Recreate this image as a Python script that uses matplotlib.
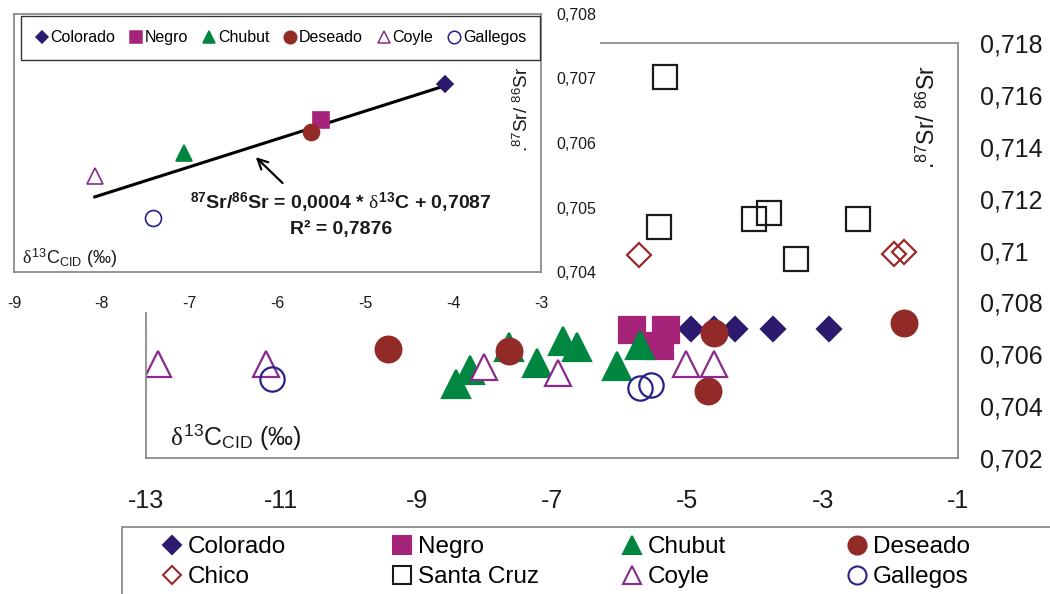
import numpy as np
import matplotlib
matplotlib.use('Agg')
import matplotlib.pyplot as plt
from matplotlib.lines import Line2D
from matplotlib.patches import Rectangle
from matplotlib.ticker import FuncFormatter

plt.rcParams['font.family'] = ['Liberation Sans', 'DejaVu Sans']
plt.rcParams['mathtext.fontset'] = 'custom'
plt.rcParams['mathtext.rm'] = 'Liberation Sans'
plt.rcParams['mathtext.it'] = 'Liberation Serif'
plt.rcParams['mathtext.bf'] = 'Liberation Sans:bold'
plt.rcParams['mathtext.sf'] = 'Liberation Sans'
plt.rcParams['axes.unicode_minus'] = False

# ---- main chart data (d13C, 87Sr/86Sr) ----
colorado_x = [-4.94, -4.61, -4.30, -3.74, -2.91]
colorado_y = [0.70697, 0.70697, 0.70697, 0.70697, 0.70697]
negro_x = [-5.82, -5.32, -5.41]
negro_y = [0.70693, 0.70693, 0.70632]
chubut_x = [-8.42, -8.21, -7.64, -7.22, -6.84, -6.63, -6.04, -5.70]
chubut_y = [0.70485, 0.70539, 0.70628, 0.70566, 0.70651, 0.70628, 0.70555, 0.70636]
deseado_x = [-9.43, -7.64, -4.61, -4.70, -1.80]
deseado_y = [0.70620, 0.70612, 0.70682, 0.70458, 0.70720]
chico_x = [-5.72, -1.94, -1.80]
chico_y = [0.70983, 0.70986, 0.70994]
santacruz_x = [-5.33, -5.42, -4.02, -3.80, -3.40, -2.48]
santacruz_y = [0.71669, 0.71091, 0.71121, 0.71144, 0.70967, 0.71121]
coyle_x = [-12.82, -11.23, -8.01, -6.91, -5.02, -4.61]
coyle_y = [0.70562, 0.70562, 0.70551, 0.70528, 0.70562, 0.70562]
gallegos_x = [-11.14, -5.70, -5.53]
gallegos_y = [0.70505, 0.70470, 0.70481]

# ---- inset data (means per river) ----
inset_names = ['Colorado', 'Negro', 'Chubut', 'Deseado', 'Coyle', 'Gallegos']
inset_x = [-4.09, -5.51, -7.06, -5.62, -8.08, -7.42]
inset_y = [0.70691, 0.70636, 0.70584, 0.70617, 0.70549, 0.70484]

main_xticks = [-13, -11, -9, -7, -5, -3, -1]
main_yticks = [0.702, 0.704, 0.706, 0.708, 0.710, 0.712, 0.714, 0.716, 0.718]
inset_xticks = [-9, -8, -7, -6, -5, -4, -3]
inset_yticks = [0.704, 0.705, 0.706, 0.707, 0.708]

series = {
    'Colorado': (colorado_x, colorado_y),
    'Negro': (negro_x, negro_y),
    'Chubut': (chubut_x, chubut_y),
    'Deseado': (deseado_x, deseado_y),
    'Chico': (chico_x, chico_y),
    'Santa Cruz': (santacruz_x, santacruz_y),
    'Coyle': (coyle_x, coyle_y),
    'Gallegos': (gallegos_x, gallegos_y),
}
# marker, main size, face, edge
styles = {
    'Colorado': ('D', 12.7, '#2b1a6e', '#2b1a6e'),
    'Negro': ('s', 18.5, '#a6237a', '#a6237a'),
    'Chubut': ('^', 19.5, '#00873f', '#00873f'),
    'Deseado': ('o', 18.5, '#922b28', '#922b28'),
    'Chico': ('D', 12.3, 'none', '#9a2a2a'),
    'Santa Cruz': ('s', 17.5, 'none', '#1a1a1a'),
    'Coyle': ('^', 18.5, 'white', '#8a2a8c'),
    'Gallegos': ('o', 17.5, 'none', '#27228a'),
}

W, H = 1050, 594
def fx(px):
    return px / W
def fy(py):
    return 1 - py / H

fmt = FuncFormatter(lambda v, p: '{:g}'.format(round(v, 4)).replace('.', ','))
spine_col = '#8c8c8c'
txt_col = '#1a1a1a'

fig = plt.figure(figsize=(10.5, 5.94), dpi=100)

# ---------------- main chart ----------------
ax = fig.add_axes([fx(146), fy(458), fx(958) - fx(146), fy(43) - fy(458)])
ax.set_zorder(0)
for name, (xs, ys) in series.items():
    m, ms, fc, ec = styles[name]
    ax.plot(xs, ys, linestyle='none', marker=m, markersize=ms,
            markerfacecolor=fc, markeredgecolor=ec, markeredgewidth=1.6)
ax.set_xlim(-13, -1)
ax.set_ylim(0.702, 0.718)
ax.set_xticks(main_xticks)
ax.set_yticks(main_yticks)
ax.yaxis.tick_right()
ax.yaxis.set_major_formatter(fmt)
ax.tick_params(length=0, labelsize=18, colors=txt_col)
ax.tick_params(axis='x', pad=22)
ax.tick_params(axis='y', pad=16)
for s in ax.spines.values():
    s.set_color(spine_col)
    s.set_linewidth(1.3)
ax.text(0.963, 0.822, r'.$^{87}$Sr/ $^{86}$Sr', rotation=90, transform=ax.transAxes,
        ha='center', va='center', fontsize=16.5, color=txt_col)
ax.text(0.03, 0.05, r'$\delta^{13}$C$_{\mathrm{CID}}$ (‰)', transform=ax.transAxes,
        ha='left', va='center', fontsize=18, color=txt_col)

# white block behind the inset (covers the main frame there)
fig.add_artist(Rectangle((0, fy(312)), fx(600), 1 - fy(312), transform=fig.transFigure,
                         facecolor='white', edgecolor='none', zorder=1))

# ---------------- inset ----------------
ax2 = fig.add_axes([fx(14), fy(272), fx(541) - fx(14), fy(14) - fy(272)])
ax2.set_zorder(2)
inset_handles = []
for name, xv, yv in zip(inset_names, inset_x, inset_y):
    m, ms, fc, ec = styles[name]
    size = 8.5 if m == 'D' else 11.5
    ax2.plot([xv], [yv], linestyle='none', marker=m, markersize=size,
             markerfacecolor=fc, markeredgecolor=ec, markeredgewidth=1.2)
    inset_handles.append(Line2D([], [], linestyle='none', marker=m,
                                markersize=6.5 if m == 'D' else 9,
                                markerfacecolor=fc, markeredgecolor=ec,
                                markeredgewidth=1.1, label=name))
slope, icpt = np.polyfit(inset_x, inset_y, 1)
xl = np.array([min(inset_x), max(inset_x)])
ax2.plot(xl, slope * xl + icpt, color='black', lw=2.2, zorder=1)
ax2.annotate('', xy=(-6.27, 0.70581), xytext=(-5.92, 0.70535),
             arrowprops=dict(arrowstyle='->', color='black', lw=1.6, mutation_scale=18))
ax2.text(0.6205, 0.267, r'$^{\mathbf{87}}$Sr/$^{\mathbf{86}}$Sr = 0,0004 * $\delta^{\mathbf{13}}$C + 0,7087',
         transform=ax2.transAxes, ha='center', va='center', fontsize=14,
         fontweight='bold', color=txt_col)
ax2.text(0.6205, 0.163, 'R² = 0,7876', transform=ax2.transAxes, ha='center', va='center',
         fontsize=14, fontweight='bold', color=txt_col)
ax2.text(0.964, 0.63, r'.$^{87}$Sr/ $^{86}$Sr', rotation=90, transform=ax2.transAxes,
         ha='center', va='center', fontsize=13.5, color=txt_col)
ax2.text(0.015, 0.054, r'$\delta^{13}$C$_{\mathrm{CID}}$ (‰)', transform=ax2.transAxes,
         ha='left', va='center', fontsize=13, color=txt_col)
ax2.set_xlim(-9, -3)
ax2.set_ylim(0.704, 0.708)
ax2.set_xticks(inset_xticks)
ax2.set_yticks(inset_yticks)
ax2.yaxis.tick_right()
ax2.yaxis.set_major_formatter(fmt)
ax2.tick_params(length=0, labelsize=11.5, colors=txt_col)
ax2.tick_params(axis='x', pad=17)
ax2.tick_params(axis='y', pad=11)
for s in ax2.spines.values():
    s.set_color(spine_col)
    s.set_linewidth(1.3)
leg2 = ax2.legend(handles=inset_handles, ncol=6, loc='upper left',
                  bbox_to_anchor=((21 - 14) / 527, (272 - 16) / 258),
                  fontsize=11.5, handlelength=0.8, handletextpad=0.15,
                  columnspacing=0.9, borderpad=0.9, borderaxespad=0,
                  fancybox=False, framealpha=1, edgecolor='#333333')
leg2.get_frame().set_linewidth(1.0)

# ---------------- bottom legend ----------------
columns = [['Colorado', 'Chico'], ['Negro', 'Santa Cruz'],
           ['Chubut', 'Coyle'], ['Deseado', 'Gallegos']]
col_left = [160, 390, 620, 845]
for names, left in zip(columns, col_left):
    hs = []
    for name in names:
        m, ms, fc, ec = styles[name]
        hs.append(Line2D([], [], linestyle='none', marker=m,
                         markersize=9.2 if m == 'D' else 13,
                         markerfacecolor=fc, markeredgecolor=ec,
                         markeredgewidth=1.5, label=name))
    fig.legend(handles=hs, loc='upper left', bbox_to_anchor=(fx(left), fy(536)),
               bbox_transform=fig.transFigure, frameon=False, fontsize=17.5,
               handlelength=1.0, handletextpad=0.15, borderpad=0, borderaxespad=0,
               labelspacing=0.33)
fig.add_artist(Rectangle((fx(122), -0.05), 1, fy(527) + 0.05, transform=fig.transFigure,
                         fill=False, edgecolor=spine_col, lw=1.3))

fig.savefig('out.png', dpi=100)
